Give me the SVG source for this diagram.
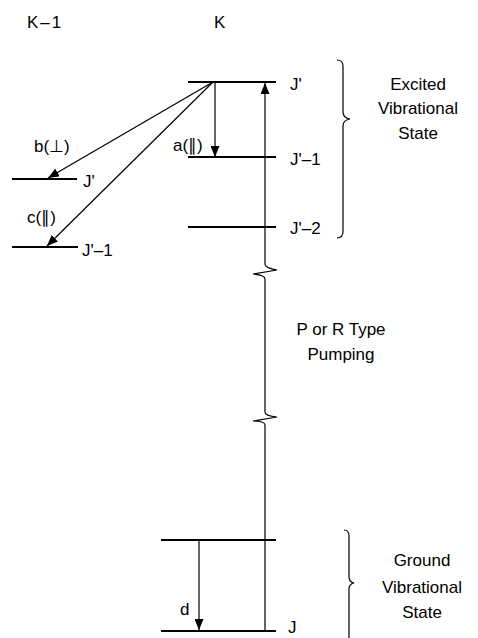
<svg xmlns="http://www.w3.org/2000/svg" width="478" height="638" viewBox="0 0 478 638">
<style>
text{font-family:"Liberation Sans",Arial,sans-serif;font-size:17px;fill:#000}
.lvl{stroke:#000;stroke-width:2;fill:none}
.arr{stroke:#000;stroke-width:1.2;fill:none}
.br{stroke:#000;stroke-width:1.2;fill:none}
.c{text-anchor:middle}
</style>
<defs>
<marker id="ah" markerUnits="userSpaceOnUse" markerWidth="12" markerHeight="9" refX="11" refY="4.5" orient="auto">
<path d="M0,0 L11,4.5 L0,9 z" fill="#000"/>
</marker>
</defs>
<rect width="478" height="638" fill="#fff"/>
<g id="headers">
<text x="27" y="28" letter-spacing="2">K–1</text>
<text x="214" y="28">K</text>
</g>
<g id="level-excited-J">
<line class="lvl" x1="188" y1="82" x2="276" y2="82"/>
<text x="290" y="90">J'</text>
</g>
<g id="level-excited-J-1">
<line class="lvl" x1="188" y1="157" x2="276" y2="157"/>
<text x="290" y="165">J'–1</text>
</g>
<g id="level-excited-J-2">
<line class="lvl" x1="188" y1="227" x2="276" y2="227"/>
<text x="290" y="234">J'–2</text>
</g>
<g id="level-K1-J">
<line class="lvl" x1="12" y1="179" x2="77" y2="179"/>
<text x="83" y="187">J'</text>
</g>
<g id="level-K1-J-1">
<line class="lvl" x1="12" y1="247" x2="78" y2="247"/>
<text x="82" y="256">J'–1</text>
</g>
<g id="level-ground-upper">
<line class="lvl" x1="161" y1="540" x2="276" y2="540"/>
</g>
<g id="level-ground-J">
<line class="lvl" x1="161" y1="631" x2="276" y2="631"/>
<text x="288" y="633">J</text>
</g>
<g id="excited-state">
<path class="br" d="M337,60 Q343,60 343,66 V112 Q343,118 350,119 Q343,120 343,126 V231 Q343,238 337,238"/>
<text class="c" x="418" y="90">Excited</text>
<text class="c" x="418" y="114">Vibrational</text>
<text class="c" x="418" y="139">State</text>
</g>
<g id="ground-state">
<path class="br" d="M344,530 Q349,530 349,536 V577 Q349,582 354,583 Q349,584 349,589 V640"/>
<text class="c" x="422" y="566">Ground</text>
<text class="c" x="422" y="593">Vibrational</text>
<text class="c" x="422" y="618">State</text>
</g>
<g id="pumping-label">
<text class="c" x="341" y="335">P or R  Type</text>
<text class="c" x="341" y="360">Pumping</text>
</g>
<g id="connectors">
<path class="arr" marker-end="url(#ah)" d="M265,631 V425 Q265,421 253,421 L277,417 Q265,416 265,412 V279 Q265,275 253,274 L277,270 Q265,268 265,264 V83"/>
<line class="arr" marker-end="url(#ah)" x1="215" y1="82" x2="215" y2="157"/>
<line class="arr" marker-end="url(#ah)" x1="213" y1="82" x2="48" y2="178"/>
<line class="arr" marker-end="url(#ah)" x1="213" y1="82" x2="47" y2="246"/>
<line class="arr" marker-end="url(#ah)" x1="199" y1="540" x2="199" y2="630"/>
</g>
<g id="arrow-labels">
<text x="173" y="151">a(∥)</text>
<text x="34" y="152">b(⊥)</text>
<text x="27" y="223">c(∥)</text>
<text x="180" y="615">d</text>
</g>
</svg>
